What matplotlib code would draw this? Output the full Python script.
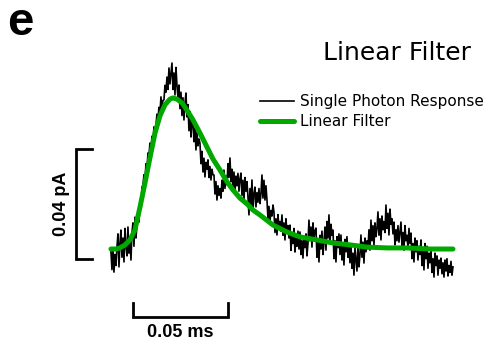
import numpy as np
import matplotlib
matplotlib.use("Agg")
import matplotlib.pyplot as plt

# single photon response (units: fA, one sample per pixel over 0.18 ms)
spr_fA = [
    -1.0, -7.5, 0.5, -8.4, -2.0, -6.0, 0.7,
    5.5, -6.5, 2.0, 6.9, -3.0, 4.0,
    -4.7, 7.5, 1.0, -2.5, 8.0, -1.5, 3.5,
    -4.0, 6.0, 9.5, 1.0, 11.6, 4.0, 8.5,
    12.0, 9.8, 17.0, 15.0, 22.5,
    23.3, 27.0, 25.0, 31.0, 29.0, 34.9,
    34.2, 38.5, 36.0, 41.0, 39.0, 44.4, 42.0,
    45.1, 49.0, 47.0, 51.5, 49.5, 55.3, 51.0, 54.0,
    54.2, 59.5, 57.0, 62.5, 58.0, 65.8, 60.0, 64.0,
    67.6, 58.0, 64.0, 56.0, 66.0, 59.5,
    55.0, 59.6, 51.0, 57.0, 48.5, 55.0, 46.9, 53.0,
    56.7, 48.0, 52.5, 43.0, 50.0, 40.7, 46.0,
    46.9, 39.0, 44.0, 36.0, 42.5, 37.5, 40.0,
    38.5, 31.0, 35.5, 28.0, 33.0, 26.2, 31.5, 29.0,
    32.4, 26.0, 30.0, 25.1, 29.0, 27.0,
    26.9, 20.0, 24.5, 17.8, 23.0, 19.5, 22.0,
    18.5, 25.0, 21.0, 28.7, 22.0, 26.5,
    23.3, 31.0, 26.0, 33.1, 24.5, 29.0,
    22.0, 28.0, 20.7, 26.5, 23.0, 27.5, 21.0, 25.5,
    27.6, 19.5, 25.0, 17.8, 26.0, 21.0, 24.5, 19.0,
    12.4, 22.0, 15.0, 25.1, 14.0, 20.0,
    22.5, 15.3, 20.5, 17.0, 22.0, 16.5,
    20.0, 26.9, 18.5, 25.0, 17.8, 23.0,
    17.8, 11.0, 15.5, 9.8, 14.0, 12.0, 16.0,
    13.5, 6.0, 11.0, 5.1, 12.5, 8.0, 10.0, 6.5,
    12.4, 5.0, 9.5, 3.3, 11.0, 6.0, 8.5, 4.0,
    8.7, -0.5, 5.0, 2.0, 7.5, -1.1, 4.0, 1.0, 6.5, 0.0,
    6.2, -2.0, 3.0, -3.3, 4.5, 0.5, 5.5, -2.5, 2.0,
    10.5, 3.0, 8.0, 0.7, 9.5, 4.0, 6.5,
    7.6, -3.0, 3.5, -4.7, 5.0, 0.0, 6.5, -2.0, 2.5,
    8.0, -0.4, 10.0, 4.0, 12.4, 2.0, 9.0, 5.0,
    6.9, -3.5, 3.0, -4.7, 4.5, 0.5, 5.5, -2.0,
    5.1, -4.0, 2.0, -5.8, 3.5, -1.0, 4.5, -3.0, 1.0, -5.0,
    1.5, -7.0, -1.5, -9.5, 0.5, -4.0, -8.0, 1.0, -6.5, -2.0,
    5.1, -3.0, 2.5, -5.1, 4.0, -1.0, 3.0, 0.0,
    7.0, -0.4, 10.5, 3.0, 8.5, 1.0, 9.5, 4.5, 7.5,
    13.5, 5.0, 11.0, 3.3, 12.0, 7.0, 10.0, 6.0,
    16.0, 7.5, 13.0, 5.1, 14.5, 9.0, 11.0,
    5.5, 9.8, 1.5, 7.0, 3.0, 8.5, 2.5, 6.0,
    9.8, 1.0, 6.0, -0.4, 8.5, 3.0, 5.0, 0.5, 7.5, 2.0,
    5.8, -3.5, 2.0, -4.7, 4.0, -1.0, 3.0, -4.0, 1.0, -2.0,
    3.3, -6.0, 0.0, -7.6, 2.0, -3.5, 1.0, -7.0, -1.5, -5.0,
    -0.4, -8.5, -3.5, -10.2, -1.5, -6.0, -2.5, -9.5, -4.0, -7.0,
    -3.3, -9.0, -5.0, -10.2, -4.0, -8.0, -3.5, -9.8, -6.0, -8.5, -4.5, -9.5, -6.5,
]
t_spr = np.linspace(0, 0.18, len(spr_fA))

# linear filter fit (ms, fA)
t_fit = [0, 0.0026, 0.0047, 0.0074, 0.0100, 0.0126, 0.0153, 0.0179, 0.0205, 0.0232,
         0.0258, 0.0284, 0.0311, 0.0326, 0.0347, 0.0374, 0.0400, 0.0432, 0.0468, 0.0505,
         0.0537, 0.0574, 0.0611, 0.0642, 0.0679, 0.0716, 0.0747, 0.0784, 0.0853, 0.0926,
         0.0995, 0.1084, 0.1168, 0.1258, 0.1347, 0.1453, 0.1558, 0.1679, 0.1800]
fit_fA = [0, 0, 0.4, 1.5, 3.3, 6.9, 15.3, 24.0, 33.1, 42.2,
          48.4, 52.4, 54.5, 54.9, 54.5, 53.1, 50.5, 46.9, 42.2, 37.1,
          32.7, 28.7, 24.4, 21.5, 18.5, 16.4, 14.2, 12.4, 8.7, 6.2,
          4.4, 3.3, 2.2, 1.5, 0.7, 0.4, 0.4, 0, 0]

labels = ['Single Photon Response', 'Linear Filter']
green = '#00a800'

fig = plt.figure(figsize=(4.98, 3.5), dpi=100)
ax = fig.add_axes([0, 0, 1, 1])
ax.set_xlim(-0.0584, 0.2037)
ax.set_ylim(-36.7, 90.5)
ax.axis('off')

ax.plot(t_spr, spr_fA, color='black', lw=1.2, label=labels[0])
ax.plot(t_fit, fit_fA, color=green, lw=3.6, solid_capstyle='round',
        solid_joinstyle='round', label=labels[1])

# scale bars
bold = dict(family='Liberation Sans', weight='bold', fontsize=13)
vx, vy0 = -0.0184, -3.6
ax.plot([vx + 0.0085, vx, vx, vx + 0.0085], [vy0, vy0, vy0 + 40, vy0 + 40],
        color='black', lw=2, solid_joinstyle='miter')
ax.text(-0.0258, vy0 + 20, '0.04 pA', rotation=90, ha='center', va='center', **bold)

hx0, hy = 0.0116, -24.7
ax.plot([hx0, hx0, hx0 + 0.05, hx0 + 0.05], [hy + 5, hy, hy, hy + 5],
        color='black', lw=2, solid_joinstyle='miter')
ax.text(hx0 + 0.025, -30.2, '0.05 ms', ha='center', va='center', **bold)

ax.legend(loc='upper left', bbox_to_anchor=(260 / 498, 1 - 94 / 350), frameon=False,
          handlelength=2.2, handletextpad=0.45, borderpad=0,
          borderaxespad=0, labelspacing=0.35, prop={'family': 'DejaVu Sans', 'size': 11})

fig.text(7 / 498, 1 - 35 / 350, 'e', family='Liberation Sans', weight='bold',
         fontsize=34, va='baseline', ha='left')
fig.text(397 / 498, 1 - 60 / 350, 'Linear Filter', family='DejaVu Sans',
         fontsize=18, va='baseline', ha='center')

fig.savefig('out.png', dpi=100)
